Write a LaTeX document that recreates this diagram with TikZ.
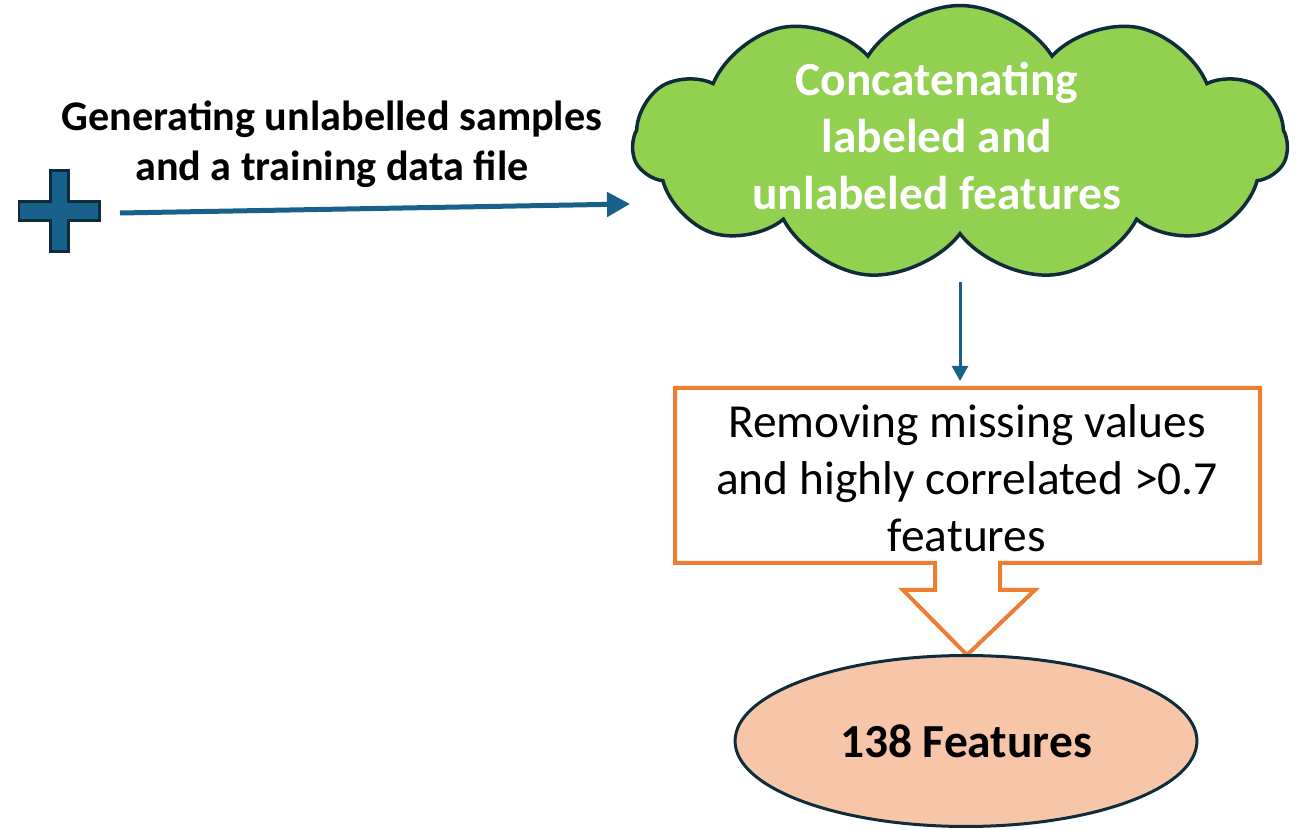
\documentclass[tikz,border=0pt]{standalone}
\usepackage{fontspec}
\setmainfont{Carlito}
\usetikzlibrary{shapes.symbols,shapes.geometric,arrows.meta}
\definecolor{arrowblue}{HTML}{17618A}
\definecolor{darkline}{HTML}{0E2C3C}
\definecolor{cloudgreen}{HTML}{92D050}
\definecolor{boxorange}{HTML}{ED7D31}
\definecolor{peach}{HTML}{F7C6A9}
\tikzset{
  bigtext/.style={font=\fontsize{27}{32.4}\selectfont, align=center},
  flowarrow/.style={arrowblue, line width=0.1cm, -{Triangle[length=0.46cm,width=0.48cm]}},
  thinarrow/.style={arrowblue, line width=0.06cm, -{Triangle[length=0.3cm,width=0.32cm]}}
}
\begin{document}
\begin{tikzpicture}[x=0.02cm,y=-0.02cm]

\useasboundingbox (0,0) rectangle (1299,830);

% Plus sign

\node [minimum size=1.66cm] (plus) at (59,211) {};
\draw [darkline, fill=arrowblue, line width=0.06cm] (50,171) -- (68,171) -- (68,202) -- (99,202) -- (99,221) -- (68,221) -- (68,252) -- (50,252) -- (50,221) -- (19,221) -- (19,202) -- (50,202) -- cycle;

\node [bigtext, font=\fontsize{24}{28.5}\selectfont\bfseries] (gen) at (332,144) {Generating unlabelled samples\\and a training data file};

% Cloud

\node [cloud, cloud puffs=11, cloud puff arc=115, cloud ignores aspect, draw=darkline, line width=0.07cm, fill=cloudgreen, minimum width=13.1cm, minimum height=5.5cm] (concat) at (960,143) {};
\node [bigtext, text=white, font=\fontsize{27}{32.4}\selectfont\bfseries] (concat text) at (937,136) {Concatenating\\labeled and\\unlabeled features};

\coordinate (gen out) at (120,213);
\coordinate (concat in) at (630,204);
\draw [flowarrow] (gen out) -- (concat in);

% Callout box

\node [bigtext, minimum width=11.7cm, minimum height=3.5cm] (remove) at (967,478) {Removing missing values\\and highly correlated >0.7\\features};
\draw [boxorange, line width=0.08cm, line join=miter] (675,388) -- (1260,388) -- (1260,563) -- (1000,563) -- (1000,590) -- (1035,590) -- (967,655) -- (903,590) -- (935,590) -- (935,563) -- (675,563) -- cycle;

\coordinate (concat out) at (960,282);
\coordinate (remove in) at (960,381);
\draw [thinarrow] (concat out) -- (remove in);

% Result

\node [ellipse, draw=darkline, line width=0.06cm, fill=peach, minimum width=9.24cm, minimum height=3.42cm, font=\fontsize{27}{32.4}\selectfont\bfseries] (result) at (966,741) {138 Features};

\end{tikzpicture}
\end{document}
